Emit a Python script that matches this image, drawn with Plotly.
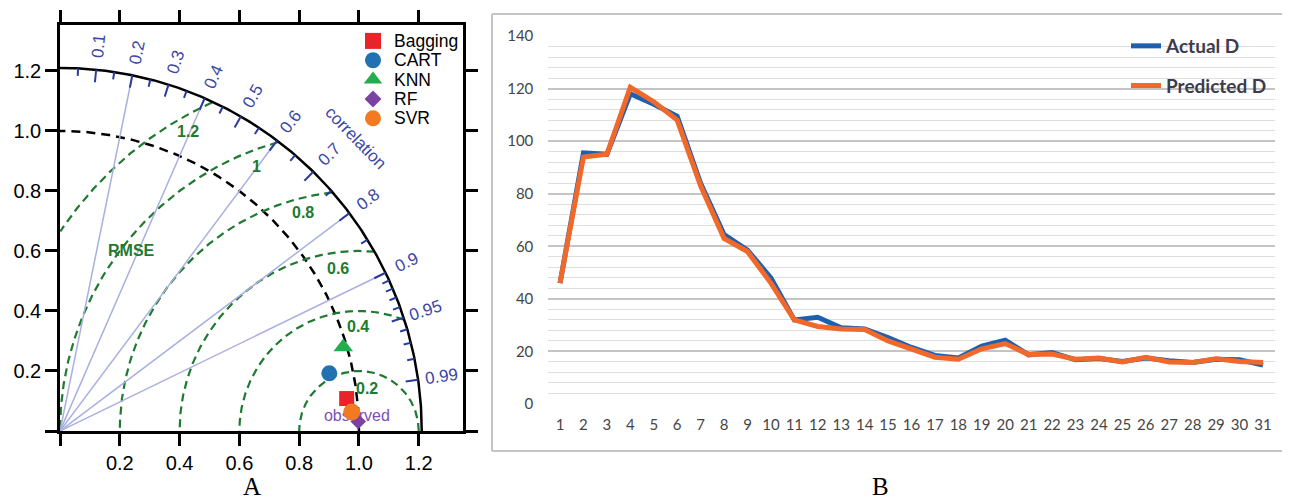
import numpy as np
import plotly.graph_objects as go

# ---------------- Data: Taylor diagram (panel A) ----------------
models = ["Bagging", "CART", "KNN", "RF", "SVR"]
std_dev = [0.965, 0.921, 0.988, 0.998, 0.978]
correlation = [0.9937, 0.978, 0.959, 0.9995, 0.9979]
model_colors = ["#e8232a", "#2271b3", "#22ad4e", "#7a43a3", "#f27a22"]
model_symbols = ["square", "circle", "triangle-up", "diamond", "circle"]
model_sizes = [15, 16, 17, 12, 17]

ref_std = 1.0
max_std = 1.21
rmse_levels = [0.2, 0.4, 0.6, 0.8, 1.0, 1.2]
rmse_text = ["0.2", "0.4", "0.6", "0.8", "1", "1.2"]
corr_major = [0.1, 0.2, 0.3, 0.4, 0.5, 0.6, 0.7, 0.8, 0.9, 0.95, 0.99]
corr_major_text = ["0.1", "0.2", "0.3", "0.4", "0.5", "0.6", "0.7", "0.8", "0.9", "0.95", "0.99"]
corr_minor = [0.05, 0.15, 0.25, 0.35, 0.45, 0.55, 0.65, 0.75, 0.85,
              0.91, 0.92, 0.93, 0.94, 0.96, 0.97, 0.98]
corr_lines = [0.2, 0.4, 0.6, 0.8, 0.9]
axis_ticks = [0, 0.2, 0.4, 0.6, 0.8, 1.0, 1.2]
axis_tick_text = ["", "0.2", "0.4", "0.6", "0.8", "1.0", "1.2"]

# ---------------- Data: time series (panel B) ----------------
obs_index = list(range(1, 32))
actual_d = [46, 95.5, 95, 118, 114, 109.5, 84, 64.5, 58.5, 48, 32, 33, 29, 28.5, 25.3,
            21.5, 18.5, 17.5, 22, 24.3, 18.7, 19.6, 16.8, 17.3, 16.2, 17.5, 16.5, 15.8,
            17, 16.8, 14.8]
predicted_d = [46, 94, 95, 120.5, 115, 108, 83, 63, 58, 46, 32, 29.5, 28.5, 28.3, 24,
               21, 17.8, 17, 21, 23, 18.8, 19, 17, 17.5, 16, 17.8, 16, 15.8, 17.2, 16.2,
               15.8]

# ---------------- layout constants ----------------
# page body keeps an 8px margin, so the figure is drawn 8px in from the top-left
OFF = 8
VW, VH = 1290, 501
W, H = VW - OFF, VH - OFF
def px_x(p):
    return (p - OFF) / W
def px_y(p):
    return (VH - p) / H

AX = "#000000"
CORR_BLUE = "#3a46a8"
GREEN = "#1e7a30"
LINE_LAV = "#a9b0e0"

fig = go.Figure()

# --- reference std arc (black dashed)
th = np.linspace(0, np.pi / 2, 200)
fig.add_trace(go.Scatter(x=ref_std * np.cos(th), y=ref_std * np.sin(th), mode="lines",
                         line=dict(color="black", width=2.5, dash="9px,6px"),
                         showlegend=False, hoverinfo="skip", xaxis="x", yaxis="y"))

# --- RMSE arcs centred on the observed point
phi = np.linspace(0, np.pi, 600)
for R in rmse_levels:
    xs = ref_std + R * np.cos(phi)
    ys = R * np.sin(phi)
    m = (xs >= 0) & (xs ** 2 + ys ** 2 <= max_std ** 2)
    fig.add_trace(go.Scatter(x=xs[m], y=ys[m], mode="lines",
                             line=dict(color=GREEN, width=2.2, dash="8px,5px"),
                             showlegend=False, hoverinfo="skip", xaxis="x", yaxis="y"))

# --- correlation rays
rx, ry = [], []
for c in corr_lines:
    a = np.arccos(c)
    rx += [0, max_std * np.cos(a), None]
    ry += [0, max_std * np.sin(a), None]
fig.add_trace(go.Scatter(x=rx, y=ry, mode="lines", line=dict(color=LINE_LAV, width=1.5),
                         showlegend=False, hoverinfo="skip", xaxis="x", yaxis="y"))

# --- outer arc
fig.add_trace(go.Scatter(x=max_std * np.cos(th), y=max_std * np.sin(th), mode="lines",
                         line=dict(color="black", width=2.5),
                         showlegend=False, hoverinfo="skip", xaxis="x", yaxis="y"))

# --- correlation tick marks on the outer arc
tx, ty = [], []
for c, L in [(c, 0.042) for c in corr_major] + [(c, 0.025) for c in corr_minor]:
    a = np.arccos(c)
    tx += [max_std * np.cos(a), (max_std - L) * np.cos(a), None]
    ty += [max_std * np.sin(a), (max_std - L) * np.sin(a), None]
fig.add_trace(go.Scatter(x=tx, y=ty, mode="lines", line=dict(color="#2b3b9b", width=2),
                         showlegend=False, hoverinfo="skip", xaxis="x", yaxis="y"))

# --- "observed" label (under markers)
fig.add_trace(go.Scatter(x=[0.993], y=[0.048], mode="text", text=["observed"],
                         textfont=dict(family="Liberation Sans", size=16, color="#7b4fb5"),
                         showlegend=False, hoverinfo="skip", xaxis="x", yaxis="y"))

# --- model points
for name, s, c, col, sym, sz in zip(models, std_dev, correlation, model_colors,
                                    model_symbols, model_sizes):
    a = np.arccos(c)
    fig.add_trace(go.Scatter(x=[s * np.cos(a)], y=[s * np.sin(a)], mode="markers",
                             name=name, marker=dict(color=col, symbol=sym, size=sz),
                             showlegend=False, xaxis="x", yaxis="y"))

# --- manual legend for panel A
leg_x, leg_text_x, leg_y0, leg_step = 1.047, 1.112, 1.30, 0.0645
for i, (name, col, sym, sz) in enumerate(zip(models, model_colors, model_symbols, model_sizes)):
    fig.add_trace(go.Scatter(x=[leg_x], y=[leg_y0 - i * leg_step], mode="markers",
                             marker=dict(color=col, symbol=sym, size=min(sz + 1, 16)),
                             showlegend=False, hoverinfo="skip", xaxis="x", yaxis="y",
                             cliponaxis=False))

annotations = []
for i, name in enumerate(models):
    annotations.append(dict(x=leg_text_x, y=leg_y0 - i * leg_step, xref="x", yref="y",
                            text=name, showarrow=False, xanchor="left", yanchor="middle",
                            font=dict(family="Liberation Sans", size=17.5, color="black")))

# correlation labels
for c, t in zip(corr_major, corr_major_text):
    a = np.arccos(c)
    annotations.append(dict(x=1.288 * np.cos(a), y=1.288 * np.sin(a), xref="x", yref="y",
                            text=t, showarrow=False, textangle=-np.degrees(a),
                            xanchor="center", yanchor="middle",
                            font=dict(family="Liberation Sans", size=17, color=CORR_BLUE)))
annotations.append(dict(x=0.987, y=0.977, xref="x", yref="y", text="correlation",
                        showarrow=False, textangle=46, xanchor="center", yanchor="middle",
                        font=dict(family="Liberation Sans", size=17, color=CORR_BLUE)))

# RMSE labels
rmse_label_xy = [(1.026, 0.142), (0.997, 0.348), (0.93, 0.54), (0.813, 0.727),
                 (0.658, 0.881), (0.429, 0.998)]
for (lx, ly), t in zip(rmse_label_xy, rmse_text):
    annotations.append(dict(x=lx, y=ly, xref="x", yref="y", text="<b>%s</b>" % t,
                            showarrow=False, xanchor="center", yanchor="middle",
                            font=dict(family="Liberation Sans", size=16, color=GREEN)))
annotations.append(dict(x=0.24, y=0.603, xref="x", yref="y", text="<b>RMSE</b>",
                        showarrow=False, xanchor="center", yanchor="middle",
                        font=dict(family="Liberation Sans", size=16, color=GREEN)))

# panel letters (anchored to the bottom edge so they are not clipped)
annotations.append(dict(x=px_x(252), y=0, xref="paper", yref="paper", text="A",
                        showarrow=False, xanchor="center", yanchor="bottom", borderpad=0,
                        font=dict(family="Liberation Serif", size=25, color="black")))
annotations.append(dict(x=px_x(880), y=0, xref="paper", yref="paper", text="B",
                        showarrow=False, xanchor="center", yanchor="bottom", borderpad=0,
                        font=dict(family="Liberation Serif", size=25, color="black")))

# ---------------- Panel B traces ----------------
fig.add_trace(go.Scatter(x=obs_index, y=actual_d, mode="lines", name="Actual D",
                         line=dict(color="#1f5fb0", width=5), xaxis="x2", yaxis="y2",
                         legend="legend2", legendgroup="a"))
fig.add_trace(go.Scatter(x=obs_index, y=predicted_d, mode="lines", name="Predicted D",
                         line=dict(color="#f0692a", width=5), xaxis="x2", yaxis="y2",
                         legend="legend2", legendgroup="p"))

axis_common = dict(showline=True, linewidth=2.5, linecolor=AX, mirror="ticks",
                   ticks="outside", ticklen=12, tickwidth=2.5, tickcolor=AX,
                   showgrid=False, zeroline=False, tickvals=axis_ticks,
                   ticktext=axis_tick_text, automargin=False,
                   tickfont=dict(family="Liberation Sans", size=20, color="black"))

shapes = [
    dict(type="line", xref="paper", yref="paper", x0=px_x(492), x1=1.0, y0=px_y(14), y1=px_y(14),
         line=dict(color="#c4c4c4", width=2)),
    dict(type="line", xref="paper", yref="paper", x0=px_x(492), x1=px_x(492), y0=px_y(14), y1=px_y(451),
         line=dict(color="#c4c4c4", width=2)),
    dict(type="line", xref="paper", yref="paper", x0=px_x(492), x1=1.0, y0=px_y(451), y1=px_y(451),
         line=dict(color="#c4c4c4", width=2)),
]

fig.update_layout(
    width=W, height=H, margin=dict(l=0, r=0, t=0, b=0, pad=0, autoexpand=False),
    paper_bgcolor="white", plot_bgcolor="white",
    showlegend=True,
    xaxis=dict(domain=[px_x(60), px_x(463)], range=[0, 1.348], anchor="y", **axis_common),
    yaxis=dict(domain=[px_y(431), px_y(25)], range=[0, 1.353], anchor="x", **axis_common),
    xaxis2=dict(domain=[px_x(548.3), px_x(1274.7)], range=[0.5, 31.5], anchor="y2",
                tickvals=obs_index, showgrid=False, zeroline=False, showline=False,
                ticks="", ticklabelstandoff=10, automargin=False,
                tickfont=dict(family="Lato", size=15, color="#454545")),
    yaxis2=dict(domain=[px_y(404), px_y(36)], range=[0, 140], anchor="x2", dtick=20,
                showgrid=True, gridcolor="#c4c4c4", gridwidth=1.5, zeroline=False,
                showline=False, ticks="", ticklabelstandoff=14, automargin=False,
                minor=dict(dtick=4, showgrid=True, gridcolor="#dedede", gridwidth=1),
                tickfont=dict(family="Lato", size=15, color="#454545")),
    legend2=dict(x=px_x(1126), y=px_y(27), xanchor="left", yanchor="top",
                 bgcolor="rgba(0,0,0,0)", tracegroupgap=12,
                 font=dict(family="Lato", size=19, color="#3c3c4c", weight="bold")),
    annotations=annotations,
    shapes=shapes,
)

fig.write_html("out.html")
